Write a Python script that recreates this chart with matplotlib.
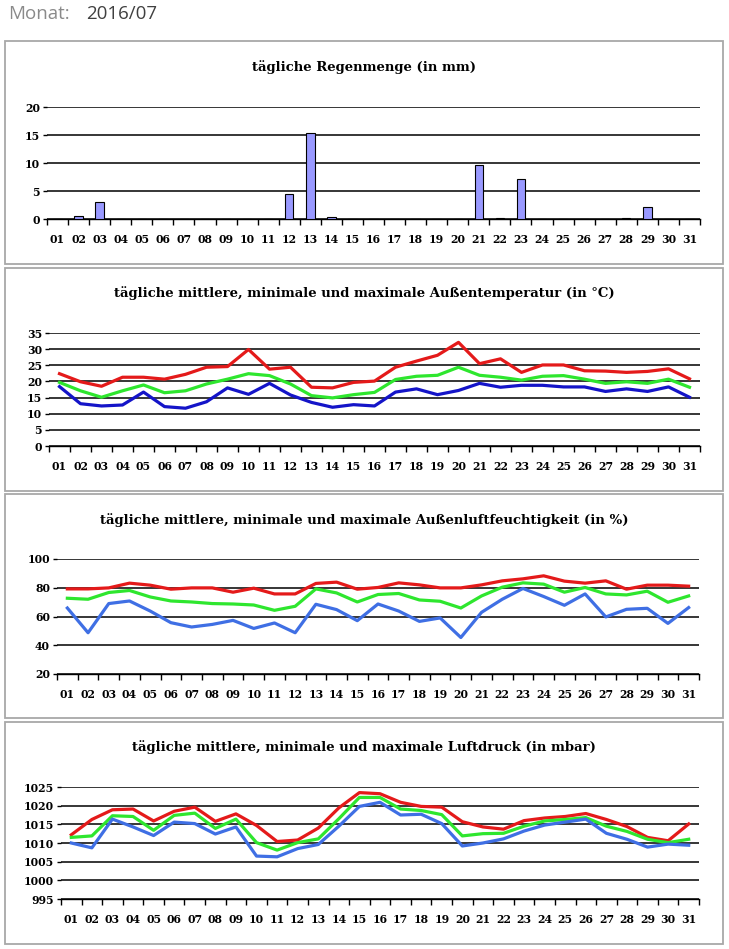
import numpy as np
import matplotlib
matplotlib.use("Agg")
import matplotlib.pyplot as plt
from matplotlib.patches import Rectangle

# Tage des Monats
tage = ["%02d" % d for d in range(1, 32)]

# tägliche Regenmenge (mm)
regen = [0, 0.5, 3.0, 0, 0, 0, 0, 0, 0, 0, 0, 4.4, 15.4, 0.3, 0, 0,
         0, 0, 0, 0, 9.7, 0.1, 7.1, 0, 0, 0, 0, 0.1, 2.1, 0, 0]

# Außentemperatur (°C)
temp_max = [22.4, 19.9, 18.5, 21.3, 21.3, 20.7, 22.2, 24.4, 24.6, 29.9, 23.8,
            24.4, 18.2, 18.0, 19.7, 20.1, 24.4, 26.3, 28.1, 32.1, 25.5, 27.0,
            22.8, 25.1, 25.1, 23.3, 23.2, 22.8, 23.1, 23.9, 20.8]
temp_mit = [19.7, 17.1, 15.1, 17.1, 18.9, 16.5, 17.1, 19.2, 20.7, 22.4, 21.8,
            19.2, 15.6, 14.9, 15.9, 16.6, 20.6, 21.6, 21.9, 24.4, 21.9, 21.3,
            20.4, 21.6, 21.8, 20.7, 19.4, 19.9, 19.4, 20.7, 18.2]
temp_min = [18.4, 13.1, 12.4, 12.7, 16.7, 12.2, 11.7, 13.7, 18.0, 16.0, 19.4,
            15.8, 13.5, 12.0, 12.8, 12.4, 16.7, 17.7, 15.9, 17.2, 19.4, 18.2,
            18.8, 18.8, 18.3, 18.3, 16.9, 17.7, 16.9, 18.3, 15.1]

# Außenluftfeuchtigkeit (%)
feucht_max = [79.2, 79.2, 79.9, 83.2, 81.8, 79.0, 79.9, 79.9, 76.9, 79.7, 75.7,
              75.7, 83.0, 83.9, 79.0, 80.2, 83.4, 82.0, 79.9, 79.9, 82.0, 84.8,
              86.2, 88.3, 84.6, 83.2, 84.8, 79.0, 81.8, 81.8, 81.1]
feucht_mit = [72.7, 72.0, 76.7, 78.1, 73.6, 70.8, 70.1, 69.0, 68.7, 68.0, 64.3,
              67.1, 79.2, 76.4, 70.1, 75.3, 76.0, 71.5, 70.6, 65.9, 74.3, 80.4,
              83.4, 82.5, 76.9, 80.2, 75.7, 75.0, 77.6, 69.9, 74.3]
feucht_min = [65.9, 48.7, 69.0, 70.8, 63.8, 55.7, 52.7, 54.5, 57.3, 51.7, 55.5,
              48.7, 68.5, 64.8, 57.1, 68.7, 63.8, 56.6, 59.0, 45.4, 62.9, 72.0,
              79.5, 73.9, 67.8, 75.7, 59.7, 65.0, 65.7, 55.2, 66.2]

# Luftdruck (mbar)
druck_max = [1012.2, 1016.3, 1018.9, 1019.1, 1015.9, 1018.5, 1019.6, 1015.8,
             1017.8, 1014.7, 1010.4, 1010.8, 1014.0, 1019.4, 1023.5, 1023.2,
             1020.9, 1019.8, 1019.6, 1015.7, 1014.3, 1013.7, 1016.0, 1016.7,
             1017.1, 1017.9, 1016.3, 1014.4, 1011.5, 1010.6, 1015.1]
druck_mit = [1011.5, 1011.9, 1017.3, 1017.1, 1013.4, 1017.4, 1018.0, 1013.9,
             1016.4, 1010.1, 1008.1, 1010.1, 1011.1, 1016.5, 1022.2, 1022.2,
             1019.1, 1018.7, 1017.6, 1011.9, 1012.5, 1012.6, 1014.5, 1015.9,
             1016.3, 1016.8, 1014.5, 1013.1, 1011.0, 1010.1, 1011.0]
druck_min = [1010.0, 1008.7, 1016.4, 1014.3, 1012.0, 1015.6, 1015.2, 1012.4,
             1014.3, 1006.5, 1006.3, 1008.5, 1009.6, 1014.5, 1019.8, 1020.9,
             1017.5, 1017.7, 1015.2, 1009.2, 1010.0, 1011.1, 1013.2, 1014.8,
             1015.6, 1016.4, 1012.6, 1011.0, 1008.9, 1009.7, 1009.4]

W, H = 729, 949
ROT = "#e41a1a"
GRUEN = "#2ee62e"
BLAU_DUNKEL = "#1414c8"
BLAU = "#3f6fe4"
SCHRIFT = "DejaVu Serif"

fig = plt.figure(figsize=(W / 100, H / 100), dpi=100)


def px_axes(x0, y0, x1, y1):
    # Pixelkoordinaten (oben links = 0,0) in Figurenanteile umrechnen
    return fig.add_axes([x0 / W, 1 - y1 / H, (x1 - x0) / W, (y1 - y0) / H])


def rahmen(x0, y0, x1, y1):
    fig.patches.append(Rectangle((x0 / W, 1 - y1 / H), (x1 - x0) / W, (y1 - y0) / H,
                                 transform=fig.transFigure, fill=False,
                                 edgecolor="#a8a8a8", linewidth=1.3))


def titel(text, y):
    fig.text(0.5 * (5 + 723) / W, 1 - y / H, text, ha="center", va="center",
             fontsize=9.5, fontweight="bold", family=SCHRIFT, color="black")


def achse_stil(ax, yticks, ylim):
    ax.set_xlim(-0.5, 30.5)
    ax.set_ylim(*ylim)
    ax.set_yticks(yticks)
    ax.set_xticks(np.arange(-0.5, 31, 1))
    ax.set_xticklabels([])
    ax.set_xticks(np.arange(31), minor=True)
    ax.set_xticklabels(tage, minor=True)
    ax.tick_params(axis="x", which="major", length=4, width=1, direction="out")
    ax.tick_params(axis="x", which="minor", length=0, pad=11)
    ax.tick_params(axis="y", length=3, width=1, pad=2)
    for lab in ax.get_xticklabels(minor=True) + ax.get_yticklabels():
        lab.set_fontfamily(SCHRIFT)
        lab.set_fontweight("bold")
        lab.set_fontsize(7.8)
    for s in ["top", "right", "left"]:
        ax.spines[s].set_visible(False)
    ax.spines["bottom"].set_linewidth(1)
    ax.yaxis.grid(True, color="black", linewidth=1.1)
    ax.set_axisbelow(True)
    ax.patch.set_alpha(0)


# Überschrift oben
fig.text(8 / W, 1 - 14 / H, "Monat:", fontsize=13.5, family="Open Sans",
         color="#8a8a8a", va="center", ha="left")
fig.text(86 / W, 1 - 14 / H, "2016/07", fontsize=13.5, family="Open Sans",
         color="#404040", va="center", ha="left")

# Rahmen der vier Felder
rahmen(5, 41, 723, 264)
rahmen(5, 268, 723, 491)
rahmen(5, 494, 723, 718)
rahmen(5, 722, 723, 944)

x = np.arange(31)

# 1) Regen
ax1 = px_axes(47, 107, 700, 219)
ax1.bar(x, regen, width=0.4, color="#9999ff", edgecolor="black", linewidth=0.8, zorder=3)
achse_stil(ax1, [0, 5, 10, 15, 20], (0, 20))
titel("tägliche Regenmenge (in mm)", 67)

# 2) Temperatur
ax2 = px_axes(49, 333, 700, 446)
ax2.plot(x, temp_max, color=ROT, lw=2.3, zorder=3)
ax2.plot(x, temp_mit, color=GRUEN, lw=2.3, zorder=3)
ax2.plot(x, temp_min, color=BLAU_DUNKEL, lw=2.3, zorder=3)
achse_stil(ax2, [0, 5, 10, 15, 20, 25, 30, 35], (0, 35))
titel("tägliche mittlere, minimale und maximale Außentemperatur (in °C)", 293)

# 3) Luftfeuchtigkeit
ax3 = px_axes(57, 559, 699, 674)
ax3.plot(x, feucht_max, color=ROT, lw=2.3, zorder=3)
ax3.plot(x, feucht_mit, color=GRUEN, lw=2.3, zorder=3)
ax3.plot(x, feucht_min, color=BLAU, lw=2.3, zorder=3)
achse_stil(ax3, [20, 40, 60, 80, 100], (20, 100))
titel("tägliche mittlere, minimale und maximale Außenluftfeuchtigkeit (in %)", 520)

# 4) Luftdruck
ax4 = px_axes(61, 787, 699, 899)
ax4.plot(x, druck_max, color=ROT, lw=2.3, zorder=3)
ax4.plot(x, druck_mit, color=GRUEN, lw=2.3, zorder=3)
ax4.plot(x, druck_min, color=BLAU, lw=2.3, zorder=3)
achse_stil(ax4, [995, 1000, 1005, 1010, 1015, 1020, 1025], (995, 1025))
titel("tägliche mittlere, minimale und maximale Luftdruck (in mbar)", 747)

fig.savefig("out.png", dpi=100)
